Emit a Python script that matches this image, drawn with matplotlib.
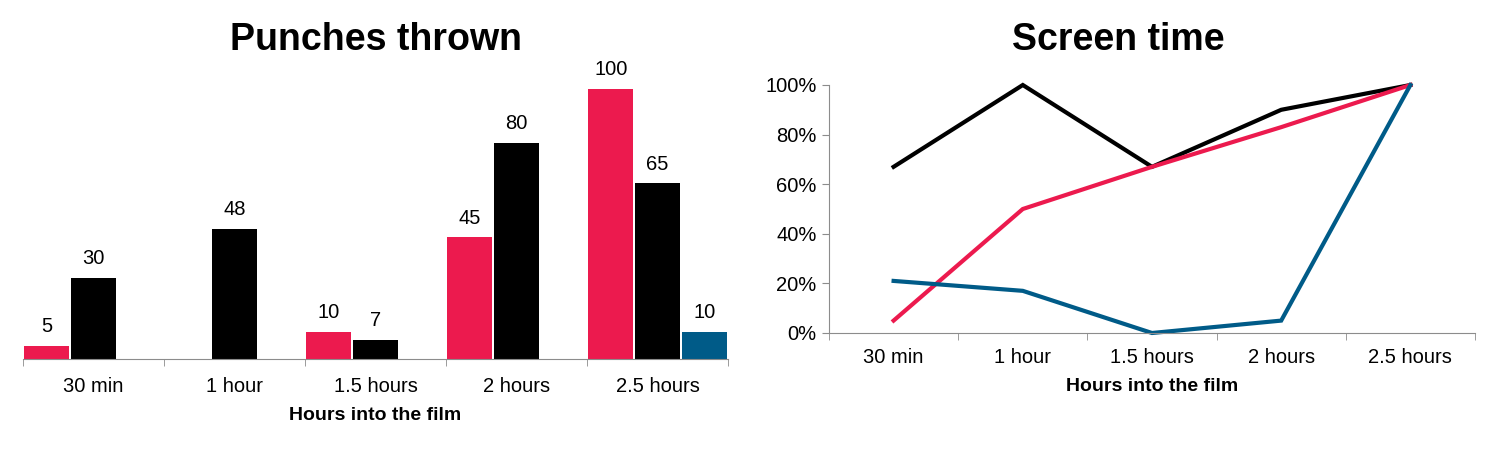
import numpy as np
import matplotlib
matplotlib.use('Agg')
import matplotlib.pyplot as plt
from matplotlib.ticker import FixedLocator, PercentFormatter

# -----------------------------
# Data
# -----------------------------
categories = ['30 min', '1 hour', '1.5 hours', '2 hours', '2.5 hours']

punches_red = [5, 0, 10, 45, 100]
punches_black = [30, 48, 7, 80, 65]
punches_blue = [0, 0, 0, 0, 10]

screen_black = [0.67, 1.00, 0.67, 0.90, 1.00]
screen_red = [0.05, 0.50, 0.67, 0.83, 1.00]
screen_blue = [0.21, 0.17, 0.00, 0.05, 1.00]

RED = '#EC1A4E'
BLACK = '#000000'
BLUE = '#005B88'
AXIS = '#8C8C8C'

plt.rcParams['font.family'] = ['Liberation Sans', 'DejaVu Sans']

fig = plt.figure(figsize=(14.96, 4.53), dpi=100)

TICK_FS = 14.5
LABEL_FS = 14

# -----------------------------
# Left: Punches thrown
# -----------------------------
ax1 = fig.add_axes([23/1496, 94/453, 705/1496, 288/453])
x = np.arange(len(categories))
w = 0.318
gap = 0.013
series = [(punches_red, RED, -1), (punches_black, BLACK, 0), (punches_blue, BLUE, 1)]
for vals, col, k in series:
    xs = x + k * (w + gap)
    for xi, v in zip(xs, vals):
        if v > 0:
            ax1.bar(xi, v, width=w, color=col)
            ax1.text(xi, v + 3.7, str(v), ha='center', va='bottom', fontsize=TICK_FS)

ax1.set_xlim(-0.5, len(categories) - 0.5)
ax1.set_ylim(0, 288 / 2.7)
for s in ['top', 'right', 'left']:
    ax1.spines[s].set_visible(False)
ax1.spines['bottom'].set_color(AXIS)
ax1.set_yticks([])
ax1.set_xticks(x)
ax1.set_xticklabels(categories, fontsize=TICK_FS)
ax1.xaxis.set_minor_locator(FixedLocator(np.arange(-0.5, len(categories), 1)))
ax1.tick_params(axis='x', which='major', length=0, pad=13)
ax1.tick_params(axis='x', which='minor', length=5, color=AXIS, direction='out')
ax1.set_xlabel('Hours into the film', fontsize=LABEL_FS, fontweight='bold', labelpad=8)
fig.text(376/1496, 1 - 40/453, 'Punches thrown', ha='center', va='center',
         fontsize=27, fontweight='bold')

# -----------------------------
# Right: Screen time
# -----------------------------
ax2 = fig.add_axes([829/1496, 120/453, 646/1496, 248/453])
ax2.plot(x, screen_black, color=BLACK, lw=3.0, clip_on=False, solid_joinstyle='miter')
ax2.plot(x, screen_red, color=RED, lw=3.0, clip_on=False, solid_joinstyle='miter')
ax2.plot(x, screen_blue, color=BLUE, lw=3.0, clip_on=False, solid_joinstyle='miter')
ax2.set_xlim(-0.5, len(categories) - 0.5)
ax2.set_ylim(0, 1)
ax2.set_yticks(np.arange(0, 1.01, 0.2))
ax2.yaxis.set_major_formatter(PercentFormatter(1.0, decimals=0))
for s in ['top', 'right']:
    ax2.spines[s].set_visible(False)
ax2.spines['bottom'].set_color(AXIS)
ax2.spines['left'].set_color(AXIS)
ax2.tick_params(axis='y', length=5, color=AXIS, labelsize=TICK_FS, pad=4)
ax2.set_xticks(x)
ax2.set_xticklabels(categories, fontsize=TICK_FS)
ax2.xaxis.set_minor_locator(FixedLocator(np.arange(-0.5, len(categories), 1)))
ax2.tick_params(axis='x', which='major', length=0, pad=11)
ax2.tick_params(axis='x', which='minor', length=5, color=AXIS, direction='out')
ax2.set_xlabel('Hours into the film', fontsize=LABEL_FS, fontweight='bold', labelpad=8)
fig.text(1118/1496, 1 - 40/453, 'Screen time', ha='center', va='center',
         fontsize=27, fontweight='bold')

fig.savefig('out.png', dpi=100)
plt.close()
